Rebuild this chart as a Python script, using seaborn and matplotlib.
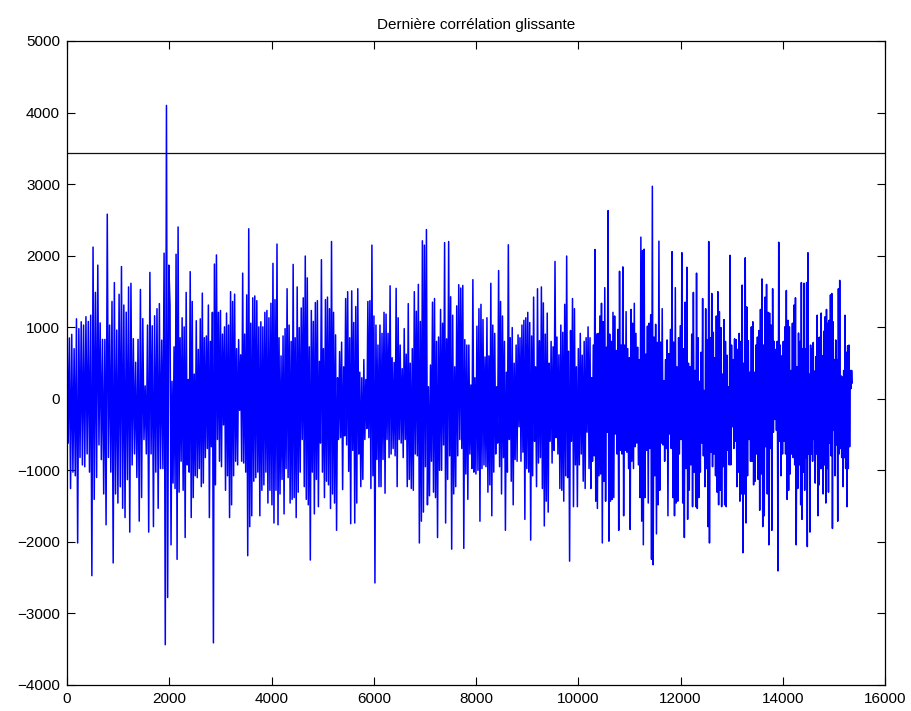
import numpy as np
import matplotlib
matplotlib.use("Agg")
import matplotlib.pyplot as plt
import seaborn as sns

# ── Data (peaks / troughs per stretch of samples) ──
seg_edges = [0, 2015, 4068, 6122, 8176, 10230, 12284, 14338, 15360]

hi_1 = [1000, 850, 900, 700, 1117, 980, 1076, 1030, 1147, 1080, 1168, 2120, 1487, 1868, 1060,
        830, 830, 2580, 1030, 1360, 1624, 960, 1460, 1848, 1310, 1210, 1563, 1614, 840, 510,
        830, 1528, 1120, 180, 1030, 1766, 1020, 1160, 1259, 1330, 820, 2035, 4100, 1868]
lo_1 = [-620, -1254, -1025, -1076, -2015, -820, -925, -950, -770, -1025, -2472, -1406, -1100,
        -645, -850, -1330, -1761, -820, -1025, -2294, -1330, -1457, -1230, -1530, -1660, -1130,
        -1863, -925, -770, -1100, -1710, -1380, -570, -770, -1863, -770, -1787, -1025, -1530,
        -975, -975, -3437, -2777]

hi_2 = [1310, 244, 726, 2020, 2401, 853, 1132, 1005, 1487, 269, 1777, 1360, 345, 1091, 690,
        1117, 1477, 853, 878, 1310, 802, 1208, 1883, 2010, 1208, 1234, 904, 1005, 1198, 1030,
        1497, 1360, 1462, 701, 827, 614, 1756, 904, 1452, 2376, 1056, 1411, 1437, 1371, 1005,
        1076, 1005, 1208, 1234, 1132, 1335, 1893]
lo_2 = [-2041, -1178, -1254, -2244, -1305, -873, -1279, -1939, -924, -1025, -1660, -1381, -1076,
        -1102, -975, -1228, -1178, -822, -695, -1660, -670, -3411, -1203, -569, -873, -949, -365,
        -1279, -1076, -1660, -1482, -1076, -873, -924, -162, -873, -898, -1025, -2193, -1787,
        -1635, -1152, -1102, -1025, -1635, -1279, -1203, -1025, -1457, -1279, -1482, -1736]

hi_3 = [1386, 2162, 853, 599, 878, 980, 1538, 1030, 802, 1878, 853, 1563, 995, 1269, 1411, 1995,
        1690, 726, 1234, 1081, 1345, 1371, 523, 1944, 701, 1386, 1421, 1259, 2198, 1208, 893, 294,
        660, 792, 447, 1401, 1497, 853, 1508, 1066, 1289, 1538, 371, 294, 548, 269, 1360, 1371,
        2147, 1157, 1030, 751]
lo_3 = [-1279, -1761, -1330, -1127, -1609, -975, -1102, -1457, -1406, -1381, -1660, -1305, -1025,
        -569, -1228, -1406, -1482, -2254, -1025, -1609, -1127, -1508, -619, -1025, -1381, -1152,
        -1203, -1533, -1330, -1457, -1838, -569, -543, -1269, -518, -645, -1015, -1746, -721,
        -1736, -1457, -772, -1228, -1127, -569, -416, -543, -1254, -1076, -2574, -848, -1228]

hi_4 = [1030, 914, 1208, 1183, 914, 1579, 574, 508, 1543, 1132, 751, 421, 980, 624, 1330, 497,
        701, 1497, 1223, 1599, 1081, 2208, 2147, 2365, 168, 472, 1350, 1401, 802, 863, 1249, 1056,
        2183, 838, 2198, 1426, 1168, 447, 1299, 1594, 1548, 1584, 827, 751, 751, 193, 1665, 294,
        1015, 1259, 1320, 1107]
lo_4 = [-1228, -848, -1320, -569, -822, -772, -695, -797, -1228, -569, -619, -822, -569, -1228,
        -1127, -1254, -1279, -772, -797, -2015, -1711, -1584, -949, -1482, -1355, -873, -1305,
        -1381, -1939, -1000, -1000, -645, -1736, -1127, -797, -2102, -1330, -1228, -797, -569,
        -695, -2091, -1051, -1406, -772, -975, -1025, -1051, -1000, -1711, -975, -924]

hi_5 = [584, 1132, 599, 1614, 1030, 914, 168, 1792, 1360, 1157, 802, 371, 2152, 853, 995, 497,
        751, 893, 853, 1030, 1096, 1132, 1208, 1066, 878, 1421, 447, 1538, 812, 1563, 1340, 904,
        1198, 497, 802, 726, 1919, 863, 614, 1030, 929, 1320, 1995, 665, 954, 1401, 1259, 447,
        701, 914, 609, 802, 853, 1005]
lo_5 = [-949, -1305, -1203, -1635, -1025, -772, -619, -949, -1330, -822, -1838, -1025, -569,
        -1152, -1482, -848, -873, -391, -873, -746, -1685, -975, -1025, -1975, -1076, -594, -1228,
        -898, -822, -1254, -1777, -1431, -1584, -594, -898, -721, -543, -772, -1254, -1279, -1431,
        -1076, -1102, -2269, -594, -1508, -924, -1508, -924, -772, -1152, -1254, -467, -975]

hi_6 = [853, 294, 751, 2086, 904, 914, 1157, 1335, 1076, 1553, 721, 2629, 904, 802, 1208, 1157,
        675, 970, 1782, 751, 1843, 751, 1218, 701, 574, 1249, 1056, 1335, 914, 721, 548, 2259,
        2071, 2091, 624, 1015, 1056, 1173, 2970, 863, 1041, 787, 2203, 792, 1259, 254, 548, 822,
        629, 970, 2056, 792, 1553, 447, 853, 1020, 2041, 701, 1350, 1838, 497, 447, 904, 1487]
lo_6 = [-1254, -873, -797, -1431, -1533, -1076, -1051, -2015, -1152, -1431, -467, -1990, -1431,
        -1406, -1381, -492, -772, -1838, -721, -772, -1635, -721, -746, -975, -1827, -873, -975,
        -670, -619, -924, -1381, -1711, -2041, -1381, -721, -1457, -695, -2244, -2320, -1076,
        -1888, -1482, -1279, -619, -645, -873, -695, -1635, -492, -695, -1381, -1635, -1457,
        -1431, -772, -569, -1457, -1939, -975, -1685, -1279, -924, -1508, -1025]

hi_7 = [396, 1756, 853, 244, 650, 1401, 117, 1259, 827, 2198, 853, 1472, 929, 574, 1157, 1497,
        1218, 995, 345, 1107, 802, 609, 168, 2005, 751, 548, 838, 827, 690, 914, 802, 1589, 497,
        1970, 1284, 812, 371, 1005, 1076, 371, 751, 863, 954, 1249, 1675, 751, 1421, 1599, 1208,
        1198, 1030, 1538, 802, 690, 802, 2188, 751, 599, 802, 1005, 1513, 1096, 1005, 396, 1056,
        1310, 1411, 447, 919]
lo_7 = [-1508, -1533, -1381, -1025, -619, -797, -1228, -975, -1787, -2015, -746, -949, -772,
        -1076, -1305, -1482, -1279, -1508, -949, -1482, -1508, -721, -924, -924, -391, -695, -594,
        -1228, -1025, -1431, -1330, -2152, -1330, -1736, -1076, -569, -873, -873, -1203, -1152,
        -772, -1127, -1558, -1051, -1787, -1635, -670, -1330, -2041, -695, -1838, -467, -289,
        -442, -2406, -594, -1076, -772, -594, -772, -1406, -1279, -1051, -772, -822, -924, -2041,
        -1254, -924]

hi_8 = [802, 1624, 701, 1614, 701, 1624, 2041, 345, 751, 701, 787, 386, 589, 1168, 853, 863,
        1198, 599, 944, 1147, 1249, 1056, 1096, 1452, 1472, 1076, 548, 822, 548, 1538, 1655, 320,
        305, 396, 1168, 650, 741, 751, 396, 396]
lo_8 = [-1482, -1685, -1025, -1279, -822, -2066, -772, -1863, -772, -873, -569, -1178, -772,
        -1635, -1203, -975, -975, -1330, -924, -1457, -975, -1305, -619, -797, -1812, -442,
        -1076, -645, -1711, -772, -695, -822, -1228, -822, -975, -1508, -975, -670, 142, 218]

threshold = 3430

his = [hi_1, hi_2, hi_3, hi_4, hi_5, hi_6, hi_7, hi_8]
los = [lo_1, lo_2, lo_3, lo_4, lo_5, lo_6, lo_7, lo_8]


def zigzag(hi, lo):
    out = []
    for i in range(max(len(hi), len(lo))):
        if i < len(hi):
            out.append(hi[i])
        if i < len(lo):
            out.append(lo[i])
    return out


xs, ys = [], []
for k, (hi, lo) in enumerate(zip(his, los)):
    vals = zigzag(hi, lo)
    last = k == len(his) - 1
    pos = np.linspace(seg_edges[k], seg_edges[k + 1], len(vals), endpoint=last)
    xs.extend(pos)
    ys.extend(vals)

# ── Style ─────────────────────────────────────────────────────────────
sns.set_style("ticks", {"xtick.direction": "in", "ytick.direction": "in",
                        "text.color": "black", "xtick.color": "black",
                        "ytick.color": "black", "axes.edgecolor": "black"})
plt.rcParams["font.family"] = ["Liberation Sans", "DejaVu Sans"]

fig = plt.figure(figsize=(9.12, 7.11), dpi=100)
ax = fig.add_axes([67 / 912, 1 - 685 / 711, (885 - 67) / 912, (685 - 41) / 711])

sns.lineplot(x=xs, y=ys, ax=ax, color="#0000ff", linewidth=1.1,
             estimator=None, sort=False)
ax.axhline(threshold, color="#111111", linewidth=0.9)

ax.set_xlim(0, 16000)
ax.set_ylim(-4000, 5000)
ax.set_xticks(np.arange(0, 16001, 2000))
ax.set_yticks(np.arange(-4000, 5001, 1000))
ax.tick_params(axis="both", labelsize=11, length=6, width=0.8, colors="black",
               top=True, right=True, direction="in", pad=5)
for sp in ax.spines.values():
    sp.set_visible(True)
    sp.set_color("black")
    sp.set_linewidth(0.9)

ax.set_title("Dernière corrélation glissante", fontsize=11, pad=9, color="black")

plt.savefig("out.png", dpi=100)
plt.close()
